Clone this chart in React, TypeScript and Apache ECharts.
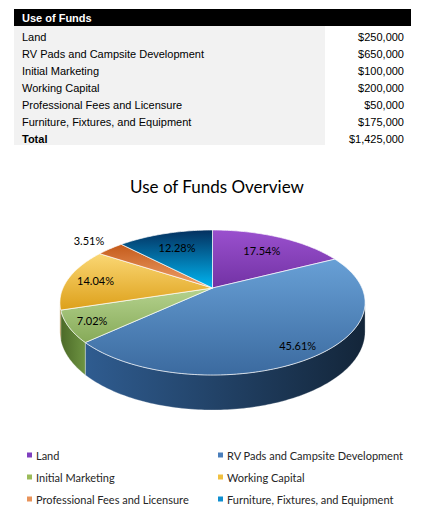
import React, { useEffect, useRef } from "react";
import * as echarts from "echarts";

const tableTitle = "Use of Funds";
const chartTitle = "Use of Funds Overview";
const categories = [
  "Land",
  "RV Pads and Campsite Development",
  "Initial Marketing",
  "Working Capital",
  "Professional Fees and Licensure",
  "Furniture, Fixtures, and Equipment",
];
const amounts = [250000, 650000, 100000, 200000, 50000, 175000];
const totalLabel = "Total";

// styling per slice (not data)
const topColors = [
  ["#9a50ce", "#7232a4"],
  ["#68a0d6", "#3b6a9f"],
  ["#b5d28e", "#86aa58"],
  ["#fad774", "#dda01a"],
  ["#c45a1a", "#f0a26c"],
  ["#04305f", "#00b6f2"],
];
const sideColors = [
  ["#5a2484", "#3e165e"],
  ["#2f5c90", "#132539"],
  ["#4c6a28", "#6e9442"],
  ["#a87812", "#8a620c"],
  ["#9a4412", "#7a340c"],
  ["#02386a", "#012448"],
];
const legendColors = ["#7f3fbf", "#4a7ebb", "#9bbb59", "#f0c040", "#e8935a", "#0f8fd0"];
const labelRadius = [0.63, 1.0, 0.93, 0.79, 1.07, 0.63];

const total = amounts.reduce((a, b) => a + b, 0);
const starts = amounts.map(
  (_, i) => (amounts.slice(0, i).reduce((a, b) => a + b, 0) / total) * Math.PI * 2
);

const money = (v: number) => "$" + String(v).replace(/\B(?=(\d{3})+(?!\d))/g, ",");

// simple perspective projection of a tilted cylinder
const CX = 212.5;
const CY = 288;
const R = 149.5;
const RY = 69.6;
const K = 0.2;
const H = 28;
const project = (t: number, f: number, y: number) => {
  const X = f * Math.sin(t);
  const Z = f * Math.cos(t);
  const p = 1 / (1 + K * Z);
  return [CX + R * X * p, CY - RY * Z * p + H * y * p];
};
const SIDE_MIN = Math.acos(-K);
const SIDE_MAX = Math.PI * 2 - SIDE_MIN;

const arcPoints = (a: number, b: number, y: number) => {
  const pts: number[][] = [];
  const n = Math.max(2, Math.ceil(((b - a) * 180) / Math.PI));
  for (let j = 0; j <= n; j++) pts.push(project(a + ((b - a) * j) / n, 1, y));
  return pts;
};

export default function App() {
  const chartRef = useRef<HTMLDivElement>(null);

  useEffect(() => {
    if (!chartRef.current) return;
    const chart = echarts.init(chartRef.current, null, { renderer: "svg" });

    const tableFont = "Liberation Sans, Arial, sans-serif";
    const chartFont = "Lato, Carlito, Calibri, sans-serif";
    const graphics: any[] = [
      { type: "rect", shape: { x: 14, y: 9, width: 397, height: 17 }, style: { fill: "#000" } },
      {
        type: "text",
        x: 22,
        y: 18,
        style: { text: tableTitle, fill: "#fff", font: `bold 11px ${tableFont}`, verticalAlign: "middle" },
      },
      { type: "rect", shape: { x: 14, y: 26, width: 311, height: 119 }, style: { fill: "#f2f2f2" } },
    ];
    const rows = [...categories, totalLabel];
    const rowValues = [...amounts, total];
    rows.forEach((name, i) => {
      const y = 37 + 17 * i;
      const bold = i === rows.length - 1 ? "bold " : "";
      graphics.push({
        type: "text",
        x: 22,
        y,
        style: { text: name, fill: "#000", font: `${bold}11px ${tableFont}`, verticalAlign: "middle" },
      });
      graphics.push({
        type: "text",
        x: 404,
        y,
        style: { text: money(rowValues[i]), fill: "#000", font: `11px ${tableFont}`, align: "right", verticalAlign: "middle" },
      });
    });
    categories.forEach((name, i) => {
      const col = i % 2;
      const y = 455 + 22 * Math.floor(i / 2);
      const mx = col ? 218 : 27;
      graphics.push({
        type: "rect",
        shape: { x: mx, y: y - 2.5, width: 5, height: 5 },
        style: { fill: legendColors[i] },
      });
      graphics.push({
        type: "text",
        x: mx + 9,
        y,
        style: { text: name, fill: "#262626", font: `11px ${chartFont}`, verticalAlign: "middle" },
      });
    });

    chart.setOption({
      animation: false,
      title: {
        text: chartTitle,
        left: "center",
        top: 173,
        textStyle: { fontFamily: chartFont, fontSize: 17, fontWeight: "normal", color: "#000" },
      },
      graphic: graphics,
      series: [
        {
          type: "custom",
          coordinateSystem: "none",
          data: amounts.map((v, i) => ({ name: categories[i], value: [v] })),
          renderItem: (params: any, api: any) => {
            const i = params.dataIndex;
            const v = api.value(0);
            const a = starts[i];
            const b = a + (v / total) * Math.PI * 2;
            const children: any[] = [];
            const s0 = Math.max(a, SIDE_MIN);
            const s1 = Math.min(b, SIDE_MAX);
            if (s1 > s0) {
              const pts = [...arcPoints(s0, s1, 0), ...arcPoints(s0, s1, 1).reverse()];
              children.push({
                type: "polygon",
                shape: { points: pts },
                style: {
                  fill: new echarts.graphic.LinearGradient(0, 0, 1, 0, [
                    { offset: 0, color: sideColors[i][0] },
                    { offset: 1, color: sideColors[i][1] },
                  ]),
                  stroke: "rgba(255,255,255,0.5)",
                  lineWidth: 0.6,
                },
              });
            }
            children.push({
              type: "polygon",
              shape: { points: [[CX, CY], ...arcPoints(a, b, 0)] },
              style: {
                fill: new echarts.graphic.LinearGradient(0, 0, 0, 1, [
                  { offset: 0, color: topColors[i][0] },
                  { offset: 1, color: topColors[i][1] },
                ]),
                stroke: "rgba(255,255,255,0.85)",
                lineWidth: 0.8,
              },
            });
            const mid = (a + b) / 2;
            const f = labelRadius[i];
            children.push({
              type: "text",
              z2: 20,
              x: CX + R * Math.sin(mid) * f,
              y: CY - RY * Math.cos(mid) * f,
              style: {
                text: ((v / total) * 100).toFixed(2) + "%",
                fill: "#000",
                font: `11px ${chartFont}`,
                align: "center",
                verticalAlign: "middle",
              },
            });
            return { type: "group", children };
          },
        },
      ],
    });

    return () => {
      chart.dispose();
    };
  }, []);

  return (
    <div
      ref={chartRef}
      style={{ position: "absolute", left: 0, top: 0, width: 434, height: 525, background: "#fff" }}
    />
  );
}
